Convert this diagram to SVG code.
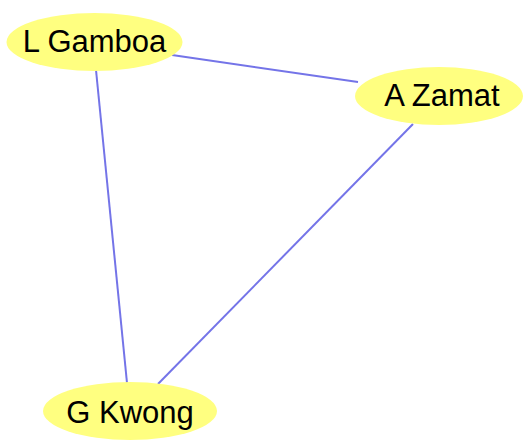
<svg xmlns="http://www.w3.org/2000/svg" width="523" height="440" viewBox="0 0 523 440">
<style>
.e{stroke:#7474e8;stroke-width:2;fill:none}
.n ellipse{fill:#ffff80;stroke:none}
.n text{font-family:"Liberation Sans",Arial,sans-serif;font-size:31px;fill:#000;text-anchor:middle}
</style>
<rect width="523" height="440" fill="#fff"/>
<g id="edges">
<line class="e" x1="172" y1="55" x2="358" y2="82"/>
<line class="e" x1="96" y1="70" x2="127" y2="383"/>
<line class="e" x1="413" y1="124" x2="158" y2="384"/>
</g>
<g id="LGamboa" class="n"><ellipse cx="94.5" cy="42" rx="88" ry="29"/><text x="94.5" y="52">L Gamboa</text></g>
<g id="AZamat" class="n"><ellipse cx="439" cy="96" rx="84" ry="29"/><text x="442" y="106">A Zamat</text></g>
<g id="GKwong" class="n"><ellipse cx="130" cy="411" rx="87" ry="29"/><text x="130" y="423">G Kwong</text></g>
</svg>
